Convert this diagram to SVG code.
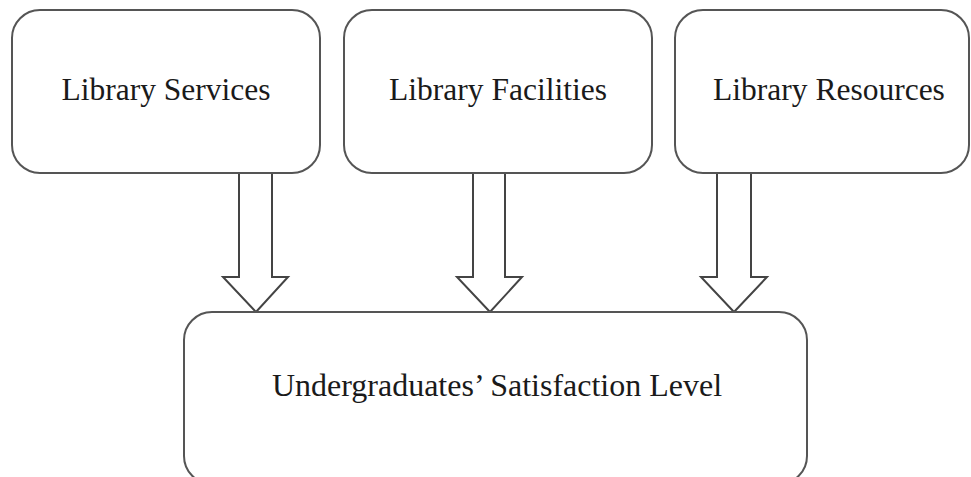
<svg xmlns="http://www.w3.org/2000/svg" width="971" height="477" viewBox="0 0 971 477">
  <style>
    .box { fill: #ffffff; stroke: #555555; stroke-width: 2; }
    .arrow { fill: #ffffff; stroke: #444444; stroke-width: 2; stroke-linejoin: miter; }
    .label { font-family: "Liberation Serif", "Times New Roman", serif; font-size: 31.5px; fill: #1a1a1a; text-anchor: middle; }
    .label-lg { font-size: 32px; }
  </style>
  <rect width="971" height="477" fill="#ffffff"/>

  <g id="connectors">
    <polygon class="arrow" points="239,173 272,173 272,277 288,277 256,312 223,277 239,277"/>
    <polygon class="arrow" points="473,173 505,173 505,277 522,277 490,312 457,277 473,277"/>
    <polygon class="arrow" points="717,173 751,173 751,277 767,277 734,312 701,277 717,277"/>
  </g>

  <g id="library-services">
    <rect class="box" x="12" y="10" width="308" height="163" rx="28" ry="28"/>
    <text class="label" x="166" y="100">Library Services</text>
  </g>

  <g id="library-facilities">
    <rect class="box" x="344" y="10" width="308" height="163" rx="28" ry="28"/>
    <text class="label" x="498" y="100">Library Facilities</text>
  </g>

  <g id="library-resources">
    <rect class="box" x="675" y="10" width="294" height="163" rx="28" ry="28"/>
    <text class="label" x="829" y="100">Library Resources</text>
  </g>

  <g id="satisfaction-level">
    <rect class="box" x="184" y="312" width="623" height="172" rx="28" ry="28"/>
    <text class="label label-lg" x="497" y="396">Undergraduates’ Satisfaction Level</text>
  </g>
</svg>
